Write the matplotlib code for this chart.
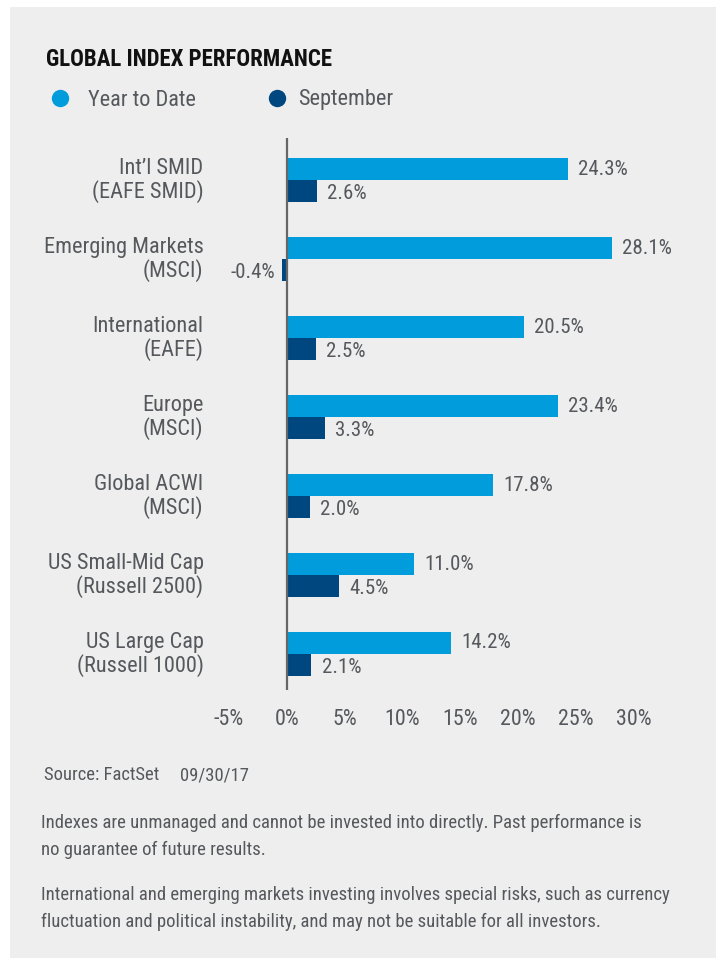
import os
import matplotlib
matplotlib.use('Agg')
import matplotlib.pyplot as plt
from matplotlib import font_manager as fm
from matplotlib import transforms as mtransforms
from matplotlib.patches import Rectangle
from matplotlib.lines import Line2D
import numpy as np

# data
categories = ["Int\u2019l SMID\n(EAFE SMID)", "Emerging Markets\n(MSCI)", "International\n(EAFE)",
              "Europe\n(MSCI)", "Global ACWI\n(MSCI)", "US Small-Mid Cap\n(Russell 2500)",
              "US Large Cap\n(Russell 1000)"]
ytd = [24.3, 28.1, 20.5, 23.4, 17.8, 11.0, 14.2]
september = [2.6, -0.4, 2.5, 3.3, 2.0, 4.5, 2.1]
xticks = [-5, 0, 5, 10, 15, 20, 25, 30]


# look for a condensed / narrow face, the original uses a condensed sans
def find_face(bold):
    found = []
    for f in fm.fontManager.ttflist:
        base = os.path.basename(f.fname).lower()
        tag = (str(f.stretch) + f.name + base).lower()
        if not ('condensed' in tag or 'narrow' in tag):
            continue
        if 'semicondensed' in base or 'extra' in base or 'ultra' in base:
            continue
        if 'italic' in base or 'oblique' in base or f.style != 'normal':
            continue
        w = f.weight if isinstance(f.weight, int) else {'normal': 400, 'regular': 400, 'bold': 700}.get(str(f.weight), 400)
        if bold and w != 700:
            continue
        if not bold and w != 400:
            continue
        rank = 0 if 'roboto' in base else 1 if 'liberation' in base else 2 if 'dejavu' in base else 3
        found.append((rank, f.fname))
    if found:
        return fm.FontProperties(fname=sorted(found)[0][1])
    return fm.FontProperties(family='Roboto', weight='bold' if bold else 'normal')


fp_reg = find_face(False)
fp_bold = find_face(True)


def fp(size, bold=False):
    p = (fp_bold if bold else fp_reg).copy()
    p.set_size(size)
    return p


W, H = 716, 958
c_ytd = '#009cdc'
c_sep = '#00467f'
c_text = '#55585c'
bg = '#eeeeee'

fig = plt.figure(figsize=(W / 100, H / 100), dpi=100)
fig.patch.set_facecolor('white')
fig.add_artist(Rectangle((10 / W, 0), 1 - 10 / W, 1 - 7 / H, transform=fig.transFigure,
                         facecolor=bg, edgecolor='none', zorder=-5))


def px(x, y):
    return x / W, 1 - y / H


# axes: x from -5 to 30 mapped to 229..634 px, y 138..690 px
l, r, t, b = 229, 634, 138, 690
ax = fig.add_axes([l / W, 1 - b / H, (r - l) / W, (b - t) / H], zorder=2)
ax.set_facecolor('none')
ax.set_xlim(-5, 30)
ax.set_ylim(6.456, -0.532)

y = np.arange(len(categories))
h = 0.278
ax.barh(y - h / 2, ytd, height=h, color=c_ytd, edgecolor='none')
ax.barh(y + h / 2, september, height=h, color=c_sep, edgecolor='none')
ax.axvline(0, color='#666666', lw=1.6, zorder=3)

vs = 15
for i, (a, s) in enumerate(zip(ytd, september)):
    ax.text(a + 0.9, i - h / 2, f"{a:.1f}%", va='center', ha='left', fontproperties=fp(vs), color=c_text)
    if s >= 0:
        ax.text(s + 0.9, i + h / 2 + 0.03, f"{s:.1f}%", va='center', ha='left', fontproperties=fp(vs), color=c_text)
    else:
        ax.text(s - 0.6, i + h / 2 + 0.03, f"{s:.1f}%", va='center', ha='right', fontproperties=fp(vs), color=c_text)
    ax.text(-7.2, i + 0.01, categories[i], va='center', ha='right', fontproperties=fp(16), color=c_text,
            linespacing=1.05)

ax.set_xticks(xticks)
ax.set_xticklabels([f"{v}%" for v in xticks], color=c_text)
shift = mtransforms.ScaledTranslation(-3 / 100, 0, fig.dpi_scale_trans)
for lab in ax.get_xticklabels():
    lab.set_fontproperties(fp(15.8))
    lab.set_transform(lab.get_transform() + shift)
ax.tick_params(axis='x', length=0, pad=14)
ax.set_yticks([])
for s in ax.spines.values():
    s.set_visible(False)

# title and legend
fig.text(*px(46, 59), "GLOBAL INDEX PERFORMANCE", fontproperties=fp(16.5, True), color='#111111',
         va='center', ha='left')
for cx, col in [(60, c_ytd), (277, c_sep)]:
    fig.add_artist(Line2D([cx / W], [1 - 98 / H], transform=fig.transFigure, marker='o', markersize=12.5,
                          color=col, markeredgewidth=0, linestyle='none'))
for tx, lab in [(88, "Year to Date"), (298, "September")]:
    fig.text(*px(tx, 100), lab, fontproperties=fp(16), color=c_text, va='center', ha='left')

# footer
fig.text(*px(44, 775), "Source: FactSet", fontproperties=fp(13.4), color=c_text, va='center')
fig.text(*px(180, 775), "09/30/17", fontproperties=fp(13.4), color=c_text, va='center')
fs = 13.5
fig.text(*px(41, 823), "Indexes are unmanaged and cannot be invested into directly. Past performance is",
         fontproperties=fp(fs), color=c_text, va='center')
fig.text(*px(41, 850), "no guarantee of future results.", fontproperties=fp(fs), color=c_text, va='center')
fig.text(*px(41, 895), "International and emerging markets investing involves special risks, such as currency",
         fontproperties=fp(fs), color=c_text, va='center')
fig.text(*px(41, 922), "fluctuation and political instability, and may not be suitable for all investors.",
         fontproperties=fp(fs), color=c_text, va='center')

fig.savefig('out.png', dpi=100, facecolor=fig.get_facecolor())
